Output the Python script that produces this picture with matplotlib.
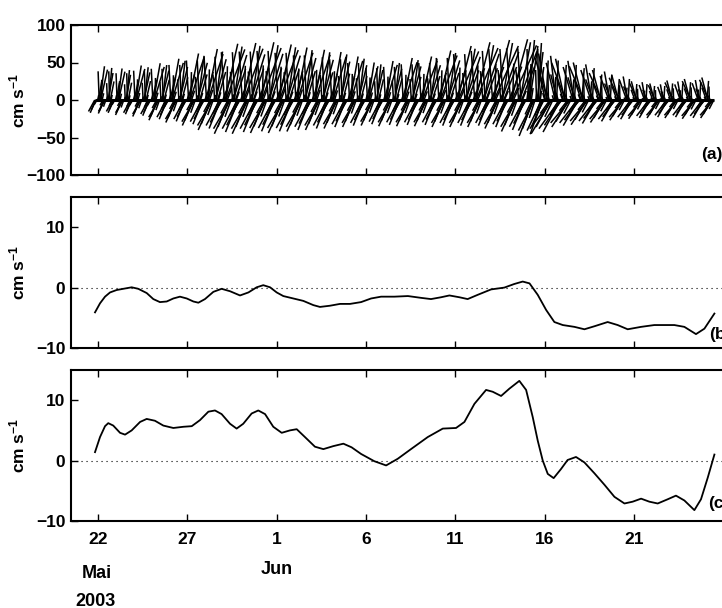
import numpy as np
import matplotlib
matplotlib.use("Agg")
import matplotlib.pyplot as plt
import matplotlib.dates as mdates
from matplotlib.collections import LineCollection

plt.rcParams["font.family"] = ["Liberation Sans", "DejaVu Sans"]
plt.rcParams["font.weight"] = "bold"
plt.rcParams["axes.labelweight"] = "bold"
plt.rcParams["mathtext.fontset"] = "custom"
plt.rcParams["mathtext.bf"] = "Liberation Sans:bold"
plt.rcParams["mathtext.rm"] = "Liberation Sans:bold"
plt.rcParams["mathtext.default"] = "bf"

START = np.datetime64("2003-05-22T00:00")

# (a) daily envelope of the tidal sticks, cm/s (day 0 = 22 May)
flood_peak = [45, 42, 46, 49, 55, 62, 68, 75, 76, 77, 74, 70, 67, 64, 58, 50, 52, 56,
              58, 66, 72, 77, 80, 81, 80, 62, 55, 50, 40, 33, 25, 22, 26, 28, 30]
ebb_peak = [18, 20, 22, 27, 30, 34, 40, 45, 45, 44, 44, 42, 40, 38, 36, 34, 35, 35,
            35, 36, 36, 36, 38, 42, 48, 45, 36, 33, 30, 27, 25, 24, 24, 25, 24]
# u/v ratio of the sticks (positive flood lean = to the right)
flood_lean = [0.15, 0.15, 0.18, 0.2, 0.2, 0.22, 0.22, 0.25, 0.25, 0.25, 0.25, 0.22,
              0.22, 0.2, 0.2, 0.18, 0.2, 0.22, 0.25, 0.25, 0.28, 0.28, 0.3, 0.3, 0.1,
              -0.2, -0.25, -0.28, -0.3, -0.3, -0.3, -0.3, -0.3, -0.3, -0.3]
ebb_lean = [0.45, 0.45, 0.45, 0.45, 0.45, 0.45, 0.45, 0.45, 0.45, 0.45, 0.45, 0.45,
            0.45, 0.45, 0.45, 0.45, 0.45, 0.45, 0.45, 0.45, 0.45, 0.45, 0.45, 0.45,
            0.4, 0.6, 0.65, 0.65, 0.65, 0.65, 0.65, 0.65, 0.65, 0.65, 0.65]
# hourly shape over one day (two tides), fraction of the day's peak
tide_shape = [0.15, 0.55, 0.85, 1.0, 0.9, 0.6, 0.2, -0.4, -0.8, -1.0, -0.85, -0.5,
              0.1, 0.5, 0.8, 0.95, 0.85, 0.55, 0.15, -0.45, -0.85, -0.95, -0.75, -0.35]
lean_jitter = [1.4, 1.2, -0.25, 0.9, 1.5, 0.1, 1.5, 1.2, 0.9, 1.0, 1.3, 0.8,
               1.5, -0.3, 1.2, 0.6, -0.2, 1.3, 1.4, 1.0, 1.2, 0.9, 1.1, 1.3]

# (b) low-pass series, cm/s
b_days = [-0.15, 0.13, 0.41, 0.69, 1.06, 1.43, 1.90, 2.27, 2.74, 3.11, 3.48, 3.86,
          4.23, 4.60, 4.98, 5.35, 5.63, 6.00, 6.47, 6.93, 7.40, 7.96, 8.43, 8.89,
          9.26, 9.64, 10.01, 10.38, 10.94, 11.50, 12.06, 12.43, 12.99, 13.55, 14.11,
          14.73, 15.29, 15.85, 16.59, 17.35, 18.09, 18.64, 19.20, 19.67, 20.23, 20.69,
          21.25, 22.00, 22.74, 23.30, 23.77, 24.15, 24.61, 25.08, 25.54, 26.01, 26.66,
          27.22, 27.78, 28.52, 29.08, 29.64, 30.39, 31.13, 32.25, 32.81, 33.46, 33.93,
          34.49]
b_vals = [-4.1, -2.6, -1.5, -0.8, -0.4, -0.2, 0.05, -0.2, -0.9, -1.9, -2.4, -2.3,
          -1.8, -1.5, -1.8, -2.3, -2.5, -1.9, -0.7, -0.2, -0.6, -1.3, -0.8, 0.05,
          0.4, 0.05, -0.8, -1.4, -1.8, -2.2, -2.9, -3.2, -3.0, -2.7, -2.7,
          -2.4, -1.8, -1.5, -1.5, -1.4, -1.7, -1.9, -1.6, -1.3, -1.6, -1.9,
          -1.2, -0.3, 0.0, 0.6, 1.0, 0.7, -1.2, -3.7, -5.7, -6.2, -6.5,
          -6.9, -6.4, -5.7, -6.2, -6.9, -6.5, -6.2, -6.2, -6.5, -7.7, -6.8,
          -4.3]

# (c) low-pass series, cm/s
c_days = [-0.15, 0.13, 0.41, 0.59, 0.87, 1.25, 1.53, 1.90, 2.37, 2.74, 3.20, 3.67,
          4.23, 4.79, 5.26, 5.72, 6.19, 6.56, 6.93, 7.40, 7.77, 8.14, 8.61, 8.98,
          9.36, 9.82, 10.29, 10.75, 11.13, 11.59, 12.15, 12.62, 13.18, 13.74, 14.20,
          14.73, 15.47, 16.13, 16.78, 17.52, 18.46, 19.30, 20.04, 20.51, 21.07, 21.72,
          22.09, 22.56, 23.02, 23.58, 23.96, 24.33, 24.61, 24.89, 25.17, 25.50, 25.91,
          26.28, 26.75, 27.22, 27.78, 28.34, 28.90, 29.46, 29.92, 30.39, 30.85, 31.32,
          31.88, 32.34, 32.81, 33.37, 33.74, 34.12, 34.49]
c_vals = [1.4, 3.9, 5.7, 6.2, 5.8, 4.6, 4.3, 5.0, 6.4, 6.9, 6.6, 5.8,
          5.4, 5.6, 5.7, 6.7, 8.1, 8.3, 7.7, 6.1, 5.3, 6.1, 7.8, 8.3,
          7.7, 5.6, 4.6, 5.0, 5.2, 3.9, 2.3, 1.9, 2.4, 2.8, 2.2,
          1.1, -0.1, -0.8, 0.3, 1.9, 3.9, 5.3, 5.4, 6.4, 9.4, 11.7,
          11.4, 10.7, 11.9, 13.2, 11.7, 7.2, 3.3, 0.0, -2.2, -2.9, -1.4,
          0.1, 0.6, -0.3, -2.1, -4.0, -6.0, -7.1, -6.8, -6.3, -6.8, -7.1,
          -6.4, -5.8, -6.6, -8.2, -6.4, -2.8, 1.0]

tick_days = [0, 5, 10, 15, 20, 25, 30]
tick_labels = ["22", "27", "1", "6", "11", "16", "21"]

W, H = 722, 608
X0 = mdates.date2num(START)
DAY_PX = 17.88
V_PX = 0.75  # pixels per cm/s in panel (a)
FS = 12.5


def to_num(days):
    return X0 + np.asarray(days, dtype=float)


def style_axes(ax):
    for side in ax.spines.values():
        side.set_linewidth(1.5)
    ax.tick_params(direction="in", length=5, width=1, top=True, right=True,
                   labelsize=FS, pad=4)
    ax.set_xticks(to_num(tick_days))
    ax.set_xlim(to_num([-1.493, 37.04]))
    ax.set_ylabel("cm s$^{-1}$", fontsize=FS)
    ax.yaxis.set_label_coords(-44 / 689, 0.5)


def stick_segments():
    hours = np.arange(-4, 828)
    segs = []
    for h in hours:
        d = min(max(h // 24, 0), len(flood_peak) - 1)
        s = tide_shape[h % 24]
        if s >= 0:
            v = s * flood_peak[d]
            u = flood_lean[d] * v * lean_jitter[h % 24]
        else:
            v = s * ebb_peak[d]
            u = ebb_lean[d] * v * abs(lean_jitter[h % 24])
        t = X0 + h / 24.0
        segs.append([(t, 0.0), (t + u * V_PX / DAY_PX, v)])
    return segs


def main():
    fig = plt.figure(figsize=(W / 100, H / 100), dpi=100)
    left, width = 71 / W, 689 / W
    ax_a = fig.add_axes([left, 1 - 175 / H, width, 150 / H])
    ax_b = fig.add_axes([left, 1 - 348 / H, width, 151 / H])
    ax_c = fig.add_axes([left, 1 - 521 / H, width, 151 / H])

    # (a) stick plot
    ax_a.add_collection(LineCollection(stick_segments(), colors="k", linewidths=1.1))
    ax_a.hlines(0, X0 - 4 / 24, X0 + 827 / 24, colors="k", linewidth=2.2)
    ax_a.set_ylim(-100, 100)
    ax_a.set_yticks([-100, -50, 0, 50, 100])
    style_axes(ax_a)
    ax_a.set_xticklabels([])
    ax_a.text(to_num(33.74), -73, "(a)", fontsize=FS, va="center", ha="left")

    # (b)
    ax_b.axhline(0, color="k", lw=0.8, ls=(0, (1, 3.5)))
    ax_b.plot(to_num(b_days), b_vals, color="k", lw=1.3, solid_joinstyle="round")
    ax_b.set_ylim(-10, 15)
    ax_b.set_yticks([-10, 0, 10])
    style_axes(ax_b)
    ax_b.set_xticklabels([])
    ax_b.text(to_num(34.19), -7.7, "(b)", fontsize=FS, va="center", ha="left")

    # (c)
    ax_c.axhline(0, color="k", lw=0.8, ls=(0, (1, 3.5)))
    ax_c.plot(to_num(c_days), c_vals, color="k", lw=1.3, solid_joinstyle="round")
    ax_c.set_ylim(-10, 15)
    ax_c.set_yticks([-10, 0, 10])
    style_axes(ax_c)
    ax_c.set_xticklabels(tick_labels)
    ax_c.tick_params(axis="x", pad=8)
    ax_c.text(to_num(34.13), -7.1, "(c)", fontsize=FS, va="center", ha="left")

    tr = ax_c.get_xaxis_transform()
    ax_c.text(to_num(-0.05), (521 - 573) / 151, "Mai", transform=tr, fontsize=13,
              ha="center", va="center")
    ax_c.text(to_num(10.0), (521 - 570) / 151, "Jun", transform=tr, fontsize=13,
              ha="center", va="center")
    ax_c.text(to_num(-0.15), (521 - 601) / 151, "2003", transform=tr, fontsize=13,
              ha="center", va="center")

    fig.savefig("out.png", dpi=100)
    plt.close(fig)


if __name__ == "__main__":
    main()
